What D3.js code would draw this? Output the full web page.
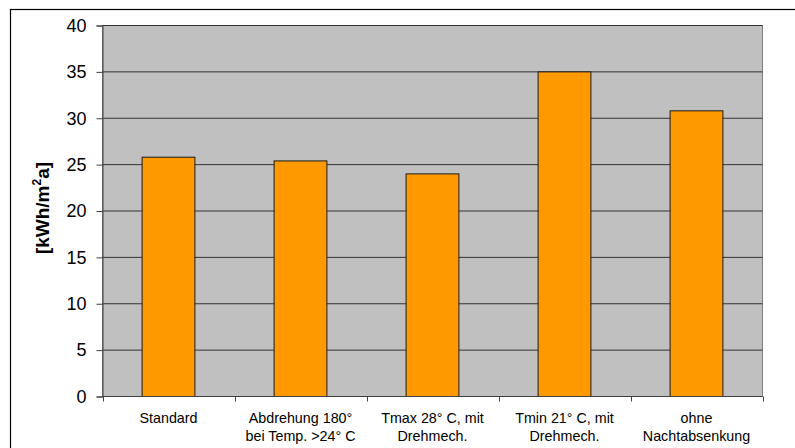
<!DOCTYPE html>
<html>
<head>
<meta charset="utf-8">
<script src="https://cdn.jsdelivr.net/npm/d3@7/dist/d3.min.js"></script>
<style>
  html, body { margin: 0; padding: 0; background: #fff; }
  svg { display: block; font-family: "Liberation Sans", Arial, sans-serif; }
</style>
</head>
<body>
<svg id="chart" width="795" height="448"></svg>
<script>
// Annual energy demand per variant
const categories = [
  ["Standard"],
  ["Abdrehung 180°", "bei Temp. >24° C"],
  ["Tmax 28° C, mit", "Drehmech."],
  ["Tmin 21° C, mit", "Drehmech."],
  ["ohne", "Nachtabsenkung"]
];
const values = [25.8, 25.4, 24.0, 35.0, 30.8];
const yTicks = [0, 5, 10, 15, 20, 25, 30, 35, 40];
const yLabel = "[kWh/m";
const yLabelSup = "2";
const yLabelEnd = "a]";

const svg = d3.select("#chart");
const W = 795, H = 448;
const plot = { left: 102.5, right: 762.5, top: 25.5, bottom: 396.5 };

// outer frame
svg.append("rect")
  .attr("x", 10.5).attr("y", 9.5)
  .attr("width", W).attr("height", H)
  .attr("fill", "#fff").attr("stroke", "#000").attr("stroke-width", 1.2);

const x = d3.scaleBand()
  .domain(d3.range(categories.length))
  .range([plot.left, plot.right])
  .paddingInner(0.6)
  .paddingOuter(0.3);

const y = d3.scaleLinear().domain([0, 40]).range([plot.bottom, plot.top]);

// plot area
svg.append("rect")
  .attr("x", plot.left).attr("y", plot.top)
  .attr("width", plot.right - plot.left).attr("height", plot.bottom - plot.top)
  .attr("fill", "#c0c0c0").attr("stroke", "#808080").attr("stroke-width", 1);

// horizontal gridlines
svg.append("g").selectAll("line")
  .data(yTicks.filter(t => t > 0))
  .join("line")
  .attr("x1", plot.left).attr("x2", plot.right)
  .attr("y1", d => y(d)).attr("y2", d => y(d))
  .attr("stroke", "#333").attr("stroke-width", 1);

// bars
svg.append("g").selectAll("rect")
  .data(values)
  .join("rect")
  .attr("x", (d, i) => x(i))
  .attr("width", x.bandwidth())
  .attr("y", d => y(d))
  .attr("height", d => y(0) - y(d))
  .attr("fill", "#ff9900")
  .attr("stroke", "#1a1a1a")
  .attr("stroke-width", 1);

// y axis
const yAxis = d3.axisLeft(y).tickValues(yTicks).tickSize(6).tickPadding(10);
const gy = svg.append("g")
  .attr("transform", `translate(${plot.left},0)`)
  .call(yAxis);
gy.select(".domain").attr("stroke", "#404040");
gy.selectAll(".tick line").attr("stroke", "#404040");
gy.selectAll(".tick text")
  .attr("font-size", 18).attr("fill", "#000")
  .attr("font-family", "Liberation Sans, Arial, sans-serif");

// x axis: ticks at category boundaries
const step = x.step();
const boundaries = d3.range(categories.length + 1).map(i => plot.left + i * step);
const gx = svg.append("g");
gx.append("line")
  .attr("x1", plot.left).attr("x2", plot.right)
  .attr("y1", plot.bottom).attr("y2", plot.bottom)
  .attr("stroke", "#404040");
gx.selectAll("line.tk")
  .data(boundaries)
  .join("line")
  .attr("class", "tk")
  .attr("x1", d => Math.round(d) + 0.5).attr("x2", d => Math.round(d) + 0.5)
  .attr("y1", plot.bottom).attr("y2", plot.bottom + 5)
  .attr("stroke", "#404040");

// category labels
const labels = svg.append("g")
  .selectAll("text")
  .data(categories)
  .join("text")
  .attr("text-anchor", "middle")
  .attr("font-size", 14.3)
  .attr("fill", "#000")
  .attr("y", 423);
labels.selectAll("tspan")
  .data((d, i) => d.map(s => ({ s, i })))
  .join("tspan")
  .attr("x", d => x(d.i) + x.bandwidth() / 2)
  .attr("dy", (d, j) => j === 0 ? 0 : 18)
  .text(d => d.s);

// y axis title
const yt = svg.append("text")
  .attr("transform", "translate(49,208) rotate(-90)")
  .attr("text-anchor", "middle")
  .attr("font-size", 19)
  .attr("font-weight", "bold")
  .attr("fill", "#000");
yt.append("tspan").text(yLabel);
yt.append("tspan").attr("font-size", 12).attr("dy", -8).text(yLabelSup);
yt.append("tspan").attr("dy", 8).text(yLabelEnd);
</script>
</body>
</html>
